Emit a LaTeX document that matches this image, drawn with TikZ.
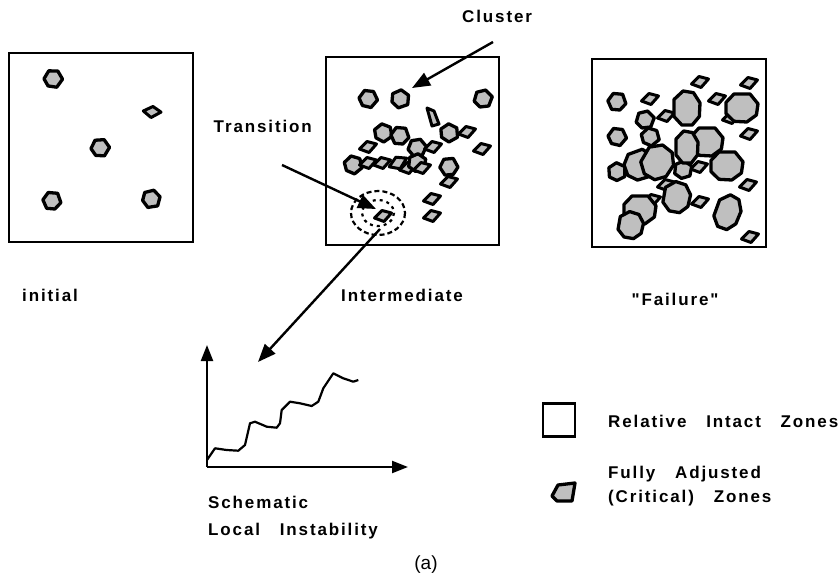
\documentclass[tikz,border=0pt]{standalone}
\usepackage{fontspec}
\setmainfont{Liberation Sans}
\newfontfamily\lbl{Liberation Sans Bold}[LetterSpace=11, WordSpace=3]
\usetikzlibrary{arrows.meta}
\begin{document}
\begin{tikzpicture}[x=1pt,y=-1pt,
  zone/.style={draw=black, line width=2.2pt, fill=white},
  blob/.style={draw=black, line width=3.3pt, fill=gray!50, line join=round},
  sblob/.style={draw=black, line width=3pt, fill=gray!50, line join=round},
  dia/.pic={\path[sblob] (-8.5,2)--(-1,-5.5)--(8.5,-3)--(1,5.5)--cycle;},
  med/.pic={\path[blob] (-9,-1)--(-3.5,-8.5)--(5.5,-7.5)--(9.5,1)--(3,8.5)--(-5.5,6.5)--cycle;},
  big/.pic={\path[blob] (-1,-.4)--(-.5,-1)--(.5,-1)--(1,-.3)--(.9,.5)--(.3,1)--(-.5,.95)--(-1,.4)--cycle;},
  txt/.style={font=\lbl\fontsize{17}{20}\selectfont, inner sep=0pt},
  arr/.style={line width=2.4pt, -{Triangle[length=18pt,width=14pt]}},
  axis/.style={line width=2.2pt, -{Triangle[length=16pt,width=12pt]}}
]
\useasboundingbox (0,0) rectangle (838,578);

% ---------- box 1 : initial
\node[zone, minimum width=184pt, minimum height=189pt, inner sep=0pt] (b1) at (101,147.5) {};
\pic[rotate=5] at (53,79) {med};
\pic[rotate=-20] at (152,112) {dia};
\pic[rotate=10] at (100,148) {med};
\pic[rotate=60] at (52,201) {med};
\pic[rotate=-40] at (151,199) {med};

% ---------- box 2 : intermediate
\node[zone, minimum width=173pt, minimum height=188pt, inner sep=0pt] (b2) at (412.5,151) {};
\pic[rotate=0] at (368,99) {med};
\pic[rotate=-30] at (400,99) {med};
\pic[rotate=20] at (483,99) {med};
\path[sblob] (427,108)--(434,111)--(439,124)--(432,126)--cycle;
\pic[rotate=-15] at (383,133) {med};
\pic[rotate=60] at (400,136) {med};
\pic[rotate=-20] at (449,133) {med};
\pic at (467,132) {dia};
\pic at (368,147) {dia};
\pic[rotate=15] at (417,148) {med};
\pic at (433,147) {dia};
\pic at (482,149) {dia};
\pic[rotate=-10] at (353,165) {med};
\pic at (368,163) {dia};
\pic at (382,163) {dia};
\pic[rotate=10,scale=1.1] at (398,163) {dia};
\pic at (408,168) {dia};
\pic[rotate=30] at (417,163) {med};
\pic at (422,168) {dia};
\pic[rotate=70] at (449,167) {med};
\pic at (449,182) {dia};
\pic at (432,199) {dia};
\pic at (432,216) {dia};
\draw[line width=2.2pt, dash pattern=on 5pt off 3pt] (378,213) ellipse [x radius=27, y radius=22];
\draw[line width=2.2pt, dash pattern=on 3pt off 4pt] (378,213) ellipse [x radius=16, y radius=13];
\pic at (383,216) {dia};

% ---------- box 3 : failure
\node[zone, minimum width=174pt, minimum height=188pt, inner sep=0pt] (b3) at (679,153) {};
\pic at (700,82) {dia};
\pic at (749,83) {dia};
\pic at (650,99) {dia};
\pic at (717,99) {dia};
\pic at (666,116) {dia};
\pic at (731,118) {dia};
\pic at (749,134) {dia};
\pic at (666,185) {dia};
\pic at (699,167) {dia};
\pic at (700,202) {dia};
\pic at (748,185) {dia};
\pic at (652,200) {dia};
\pic at (750,237) {dia};
\pic[rotate=60] at (617,102) {med};
\pic[rotate=0] at (617,137) {med};
\pic[rotate=40] at (617,172) {med};
\pic[rotate=20] at (645,120) {med};
\pic[rotate=-10] at (650,137) {med};
\pic[rotate=30] at (683,170) {med};
\pic[rotate=90, xscale=17, yscale=13] at (687,108) {big};
\pic[xscale=16, yscale=14] at (742,108) {big};
\pic[xscale=16, yscale=14] at (707,142) {big};
\pic[rotate=90, xscale=16, yscale=11] at (687,147) {big};
\pic[rotate=20, xscale=15, yscale=14] at (640,165) {big};
\pic[rotate=60, xscale=17, yscale=15] at (658,162) {big};
\pic[xscale=16, yscale=14] at (727,166) {big};
\pic[rotate=80, xscale=15, yscale=13] at (677,197) {big};
\pic[xscale=16, yscale=14] at (640,210) {big};
\pic[rotate=80, xscale=13, yscale=12] at (631,225) {big};
\pic[rotate=70, xscale=17, yscale=12] at (728,212) {big};

% ---------- labels
\node[txt, anchor=base] (initial) at (50,301) {initial};
\node[txt, anchor=base] (inter) at (402,301) {Intermediate};
\node[txt, anchor=base] (fail) at (675,305) {"Failure"};
\node[txt, anchor=base west] (cluster) at (462,23) {Cluster};
\node[txt, anchor=base east] (trans) at (312,132) {Transition};

\coordinate (cs) at (493,42);
\coordinate (ct) at (412,88);
\draw[arr] (cs) -- (ct);
\coordinate (ts) at (282,165);
\coordinate (tt) at (376,209);
\draw[arr] (ts) -- (tt);
\coordinate (ls) at (380,229);
\coordinate (lt) at (258,362);
\draw[arr] (ls) -- (lt);

% ---------- graph
\coordinate (o) at (207,467);
\coordinate (ytop) at (207,345);
\coordinate (xend) at (408,467);
\draw[axis] (o) -- (ytop);
\draw[axis] (o) -- (xend);
\draw[line width=2.2pt, line join=round] (207,460) -- (215,448.3) -- (226.7,450) -- (238.3,450.7) -- (245,445) -- (250,423.3) -- (255,421.7) -- (266.7,426.7) -- (276.7,427.7) -- (280,423.3) -- (281.7,410) -- (290,401.7) -- (300,403.3) -- (311.7,406) -- (318.3,401.7) -- (323.3,388.3) -- (333.3,373.3) -- (343.3,378.3) -- (353.3,381.7) -- (358.3,380);
\node[txt, anchor=base west] (sch) at (208,508) {Schematic};
\node[txt, anchor=base west] (loc) at (208,535) {Local Instability};
\node[font=\fontsize{19}{22}\selectfont, inner sep=0pt] (cap) at (426,565) {(a)};

% ---------- legend
\node[zone, minimum width=32pt, minimum height=33pt, inner sep=0pt] (lsq) at (559,420) {};
\node[txt, anchor=base west] (l1) at (608,427) {Relative Intact Zones};
\path[blob] (552,496)--(558,485)--(575,483)--(572,501)--(557,501)--cycle;
\node[txt, anchor=base west] (l2) at (608,478) {Fully Adjusted};
\node[txt, anchor=base west] (l3) at (608,502) {(Critical) Zones};
\end{tikzpicture}
\end{document}
